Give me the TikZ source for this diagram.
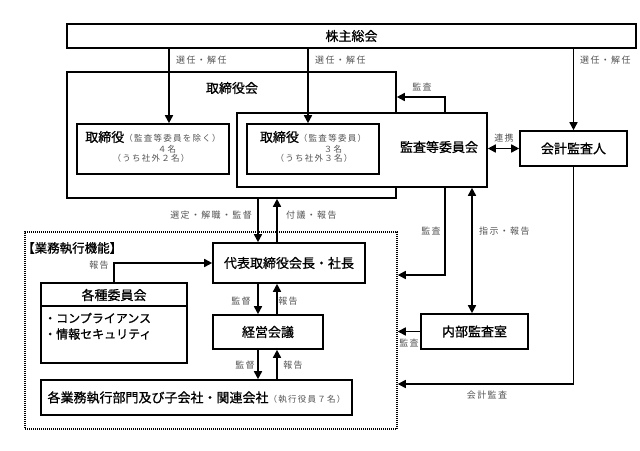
\documentclass[tikz,border=0pt]{standalone}
\usepackage{fontspec}
\setmainfont{Noto Sans CJK JP}
\newfontfamily\mainfont[FakeBold=0.8]{Noto Sans CJK JP}
\newfontfamily\labfont[LetterSpace=15]{Noto Sans CJK JP}
\usetikzlibrary{arrows.meta,calc}
\definecolor{lab}{gray}{0.33}
\begin{document}
\begin{tikzpicture}[x=1pt,y=-1pt,
 box/.style={draw,line width=1.6pt,fill=white,inner sep=0pt,rectangle},
 arr/.style={line width=1.6pt,-{Triangle[length=8pt,width=8pt]}},
 darr/.style={line width=1.6pt,{Triangle[length=8pt,width=8pt]}-{Triangle[length=8pt,width=8pt]}},
 main/.style={font=\mainfont\fontsize{13}{15}\selectfont,inner sep=0pt},
 sub/.style={font=\labfont\fontsize{8.5}{9}\selectfont,text=lab,inner sep=0pt},
 lbl/.style={font=\labfont\fontsize{9}{10}\selectfont,text=lab,inner sep=0pt},
]
\path[use as bounding box,fill=white] (0,0) rectangle (640,450);

% top
\node[box,main,minimum width=569pt,minimum height=24pt] (sh) at (351.5,36) {株主総会};

% board
\node[box,minimum width=329pt,minimum height=126pt] (tb) at (231.5,135) {};
\node[main] (tbl) at (232,88) {取締役会};
\node[box,minimum width=250pt,minimum height=74pt] (kansa) at (362,150) {};
\node[main] (kansal) at (439,147) {監査等委員会};
\node[box,minimum width=152pt,minimum height=50pt] (d1) at (153,149) {};
\node[main] (d1a) at (153,137) {取締役{\labfont\fontsize{8.5}{9}\selectfont\color{lab}（監査等委員を除く）}};
\node[sub] (d1b) at (167,149) {４名};
\node[sub] (d1c) at (151,158) {（うち社外２名）};
\node[box,minimum width=132pt,minimum height=50pt] (d2) at (313,149) {};
\node[main] (d2a) at (313,137) {取締役{\labfont\fontsize{8.5}{9}\selectfont\color{lab}（監査等委員）}};
\node[sub] (d2b) at (333,149) {３名};
\node[sub] (d2c) at (314,158) {（うち社外３名）};

\node[box,main,minimum width=107pt,minimum height=35pt] (ka) at (573.5,148.5) {会計監査人};

% execution
\node[draw,line width=1.5pt,dash pattern=on 1pt off 1pt,minimum width=372pt,minimum height=197pt,inner sep=0pt] (exec) at (211,330.5) {};
\node[main,anchor=west,font=\mainfont\fontsize{12.5}{14}\selectfont] (execl) at (22,248) {【業務執行機能】};
\node[box,main,minimum width=152pt,minimum height=40pt] (rep) at (289,263) {代表取締役会長・社長};
\node[box,minimum width=146pt,minimum height=80pt] (kakushu) at (114,323) {};
\draw[line width=1.6pt] ($(kakushu.north west)+(0,24)$) -- ($(kakushu.north east)+(0,24)$);
\node[main] (kakushul) at (114,295) {各種委員会};
\node[main,anchor=west,font=\mainfont\fontsize{12}{14}\selectfont] (k1) at (44,318) {・コンプライアンス};
\node[main,anchor=west,font=\mainfont\fontsize{12}{14}\selectfont] (k2) at (44,334) {・情報セキュリティ};
\node[box,main,minimum width=110pt,minimum height=34pt] (keiei) at (268,332) {経営会議};
\node[box,main,minimum width=311pt,minimum height=35pt] (bot) at (196.5,397.5) {各業務執行部門及び子会社・関連会社{\labfont\fontsize{8.5}{9}\selectfont\color{lab}（執行役員７名）}};
\node[box,main,minimum width=107pt,minimum height=35pt] (naibu) at (474.5,331.5) {内部監査室};

% coordinates
\coordinate (x169) at (169,0);
\coordinate (x308) at (308,0);
\coordinate (kv) at (445,97);
\coordinate (kb) at (445,275);
\coordinate (xa) at (258,0);
\coordinate (xb) at (277,0);
\coordinate (xc) at (472,0);
\coordinate (kc) at (573.5,384);

% connectors
\draw[arr] (sh.south -| x169) -- (d1.north -| x169);
\draw[arr] (sh.south -| x308) -- (d2.north -| x308);
\draw[arr] (sh.south -| ka.north) -- (ka.north);
\draw[arr] (kansa.north -| kv) -- (kv) -- (tb.east |- kv);
\draw[darr] (kansa.east |- ka.west) -- (ka.west);
\draw[arr] (tb.south -| xa) -- (rep.north -| xa);
\draw[arr] (rep.north -| xb) -- (tb.south -| xb);
\draw[arr] (kansa.south -| kb) -- (kb) -- (exec.east |- kb);
\draw[darr] (kansa.south -| xc) -- (naibu.north -| xc);
\draw[arr] (naibu.west) -- (exec.east |- naibu.west);
\draw[arr] (ka.south) -- (kc) -- (exec.east |- kc);
\draw[arr] (kakushu.north) |- (rep.west);
\draw[arr] (rep.south -| xa) -- (keiei.north -| xa);
\draw[arr] (keiei.north -| xb) -- (rep.south -| xb);
\draw[arr] (keiei.south -| xa) -- (bot.north -| xa);
\draw[arr] (bot.north -| xb) -- (keiei.south -| xb);

% labels
\node[lbl,anchor=west] (l1) at (176,60) {選任・解任};
\node[lbl,anchor=west] (l2) at (315,60) {選任・解任};
\node[lbl,anchor=west] (l3) at (580,60) {選任・解任};
\node[lbl] (l4) at (422,87) {監査};
\node[lbl] (l5) at (504,138) {連携};
\node[lbl,anchor=east] (l6) at (252,215) {選定・解職・監督};
\node[lbl,anchor=west] (l7) at (286,215) {付議・報告};
\node[lbl] (l8) at (431,231) {監査};
\node[lbl,anchor=west] (l9) at (479,231) {指示・報告};
\node[lbl] (l10) at (99,265) {報告};
\node[lbl] (l11) at (241,301) {監督};
\node[lbl] (l12) at (288,301) {報告};
\node[lbl] (l13) at (245,365) {監督};
\node[lbl] (l14) at (293,365) {報告};
\node[lbl] (l15) at (409,343) {監査};
\node[lbl] (l16) at (487,395) {会計監査};
\end{tikzpicture}
\end{document}
